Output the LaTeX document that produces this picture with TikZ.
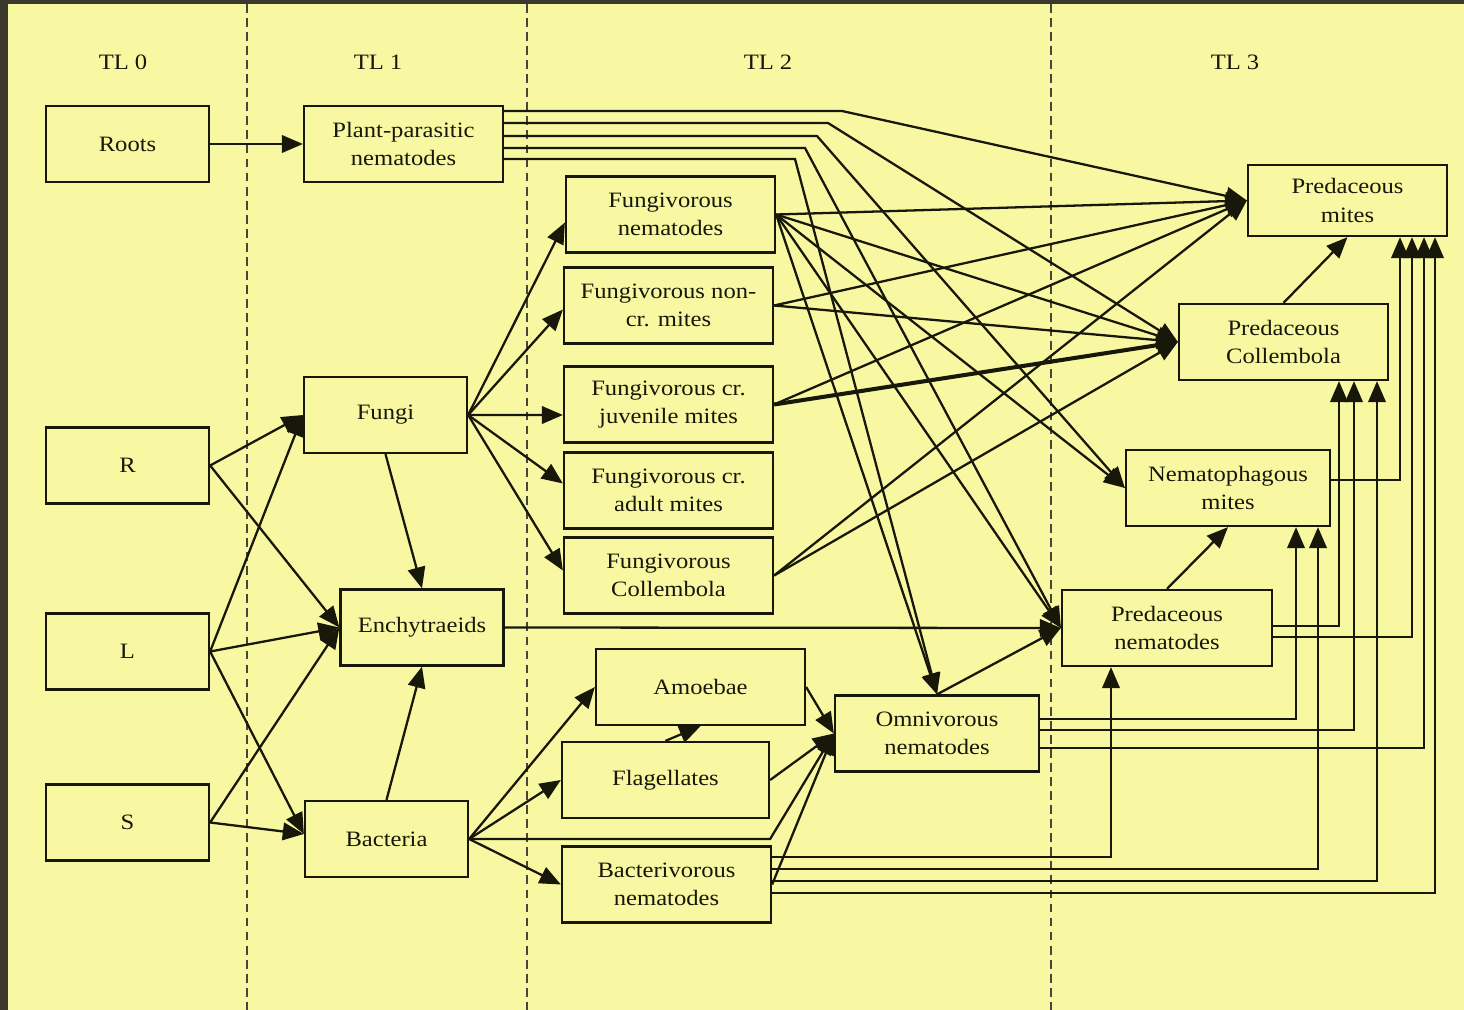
\documentclass[tikz,border=0pt]{standalone}
\usepackage{fontspec}
\setmainfont[FakeStretch=1.12]{Liberation Serif}
\usetikzlibrary{arrows.meta, calc}
\definecolor{ink}{HTML}{17170A}
\definecolor{paper}{HTML}{F8F8A2}
\definecolor{frame}{HTML}{3B392C}

\begin{document}
\begin{tikzpicture}[x=0.02cm, y=-0.02cm, font=\fontsize{12.5}{16}\selectfont,
  box/.style={draw=ink, fill=paper, line width=1.3pt, text=ink, align=center, minimum height=1.52cm, inner sep=2pt},
  sbox/.style={box, minimum width=3.26cm},
  wbox/.style={box, minimum width=4.18cm},
  arr/.style={-{Triangle[length=12pt, width=10pt]}, line width=1.3pt, ink},
  lvl/.style={text=ink},
  divider/.style={draw=ink!80, line width=1.5pt, dash pattern=on 5pt off 3pt}
]
  \useasboundingbox (0,0) rectangle (1464,1010);
  \fill[paper] (0,0) rectangle (1464,1010);
  \fill[frame] (0,0) rectangle (8,1010);
  \fill[frame] (0,0) rectangle (1464,4);
  \foreach \x in {247,527,1051} \draw[divider] (\x,4) -- (\x,1010);

  % trophic levels
  \node[lvl] (tl0) at (123,62) {TL 0};
  \node[lvl] (tl1) at (378,62) {TL 1};
  \node[lvl] (tl2) at (768,62) {TL 2};
  \node[lvl] (tl3) at (1235,62) {TL 3};

  % TL 0 and TL 1
  \node[sbox] (roots) at (127.5,144) {Roots};
  \node[sbox] (boxR) at (127.5,465.5) {R};
  \node[sbox] (boxL) at (127.5,651.5) {L};
  \node[sbox] (boxS) at (127.5,822.5) {S};
  \node[box, minimum width=3.98cm] (ppn) at (403.5,144) {Plant-parasitic\\nematodes};
  \node[sbox] (fungi) at (385.5,415) {Fungi};
  \node[sbox] (ench) at (422,627.5) {Enchytraeids};
  \node[sbox] (bact) at (386.5,839) {Bacteria};

  % TL 2
  \node[wbox] (fnem) at (670.5,214.5) {Fungivorous\\nematodes};
  \node[wbox] (fncm) at (668.5,305.5) {Fungivorous non-\\cr. mites};
  \node[wbox] (fjuv) at (668.5,404.5) {Fungivorous cr.\\juvenile mites};
  \node[wbox] (fadu) at (668.5,490.5) {Fungivorous cr.\\adult mites};
  \node[wbox] (fcol) at (668.5,575.5) {Fungivorous\\Collembola};
  \node[wbox] (amoe) at (700.5,687) {Amoebae};
  \node[box, minimum width=4.14cm] (flag) at (665.5,780) {Flagellates};
  \node[wbox] (bnem) at (666.5,884.5) {Bacterivorous\\nematodes};
  \node[box, minimum width=4.08cm] (onem) at (937,733.5) {Omnivorous\\nematodes};

  % TL 3
  \node[box, minimum width=4.2cm] (pnem) at (1167,628) {Predaceous\\nematodes};
  \node[box, minimum width=4.08cm] (nmit) at (1228,488) {Nematophagous\\mites};
  \node[wbox] (pcol) at (1283.5,342) {Predaceous\\Collembola};
  \node[box, minimum width=3.98cm, minimum height=1.42cm] (pmit) at (1347.5,200.5) {Predaceous\\mites};

  % basal links
  \draw[arr] (roots) -- (ppn);
  \draw[arr] (boxR.east) -- (fungi.west);
  \draw[arr] (boxR.east) -- (ench.west);
  \draw[arr] (boxL.east) -- (fungi.west);
  \draw[arr] (boxL.east) -- (ench.west);
  \draw[arr] (boxL.east) -- ($(bact.west)+(0,-5)$);
  \draw[arr] (boxS.east) -- (ench.west);
  \draw[arr] (boxS.east) -- ($(bact.west)+(0,-5)$);
  \draw[arr] (fungi.south) -- (ench.north);
  \draw[arr] (bact.north) -- (ench.south);
  \draw[arr] (ench.east) -- (pnem.west);

  % fungal and bacterial channel
  \foreach \t/\dy in {fnem/8, fncm/4, fjuv/10.5, fadu/-7, fcol/-5}
    \draw[arr] (fungi.east) -- ($(\t.west)+(0,\dy)$);
  \draw[arr] (bact.east) -- (amoe.west);
  \draw[arr] (bact.east) -- (flag.west);
  \draw[arr] (bact.east) -- (bnem.west);
  \draw[arr] (bact.east) -- (bact.east -| flag.east) -- (onem.west);
  \draw[arr] (flag.north) -- (amoe.south);
  \draw[arr] (amoe.east) -- (onem.west);
  \draw[arr] (flag.east) -- (onem.west);
  \draw[arr] (bnem.east) -- (onem.west);
  \draw[arr] (onem.north) -- (pnem.west);

  % plant-parasitic nematodes to predators
  \foreach \dy/\bx/\t in {-33/842/pmit.west, -21/828/pcol.west, -8/817/nmit.west, 4/805/pnem.west, 15/795/onem.north}
    \draw[arr] ($(ppn.east)+(0,\dy)$) coordinate (s) -- (s -| \bx,0) -- (\t);

  % fungivores to predators
  \foreach \t in {pmit.west, pcol.west, nmit.west, pnem.west, onem.north}
    \draw[arr] (fnem.east) -- (\t);
  \draw[arr] (fncm.east) -- (pmit.west);
  \draw[arr] (fncm.east) -- (pcol.west);
  \draw[arr] (fjuv.east) -- (pmit.west);
  \draw[arr, line width=2.3pt] (fjuv.east) -- (pcol.west);
  \draw[arr] (fcol.east) -- (pmit.west);
  \draw[arr] (fcol.east) -- (pcol.west);

  % predators to predators
  \draw[arr] (pcol.north) -- (pmit.south);
  \draw[arr] (pnem.north) -- (nmit.south);
  \foreach \s/\dy/\lx/\t in {bnem/-27.5/1111/pnem, bnem/-15.5/1318/nmit, bnem/-3.5/1377/pcol, bnem/8.5/1435/pmit,
      onem/-14.5/1296/nmit, onem/-3.5/1354/pcol, onem/14.5/1424/pmit,
      pnem/-2/1339/pcol, pnem/9/1412/pmit, nmit/-8/1400/pmit}
    \draw[arr] ($(\s.east)+(0,\dy)$) -| (\t.south -| \lx,0);
\end{tikzpicture}
\end{document}
